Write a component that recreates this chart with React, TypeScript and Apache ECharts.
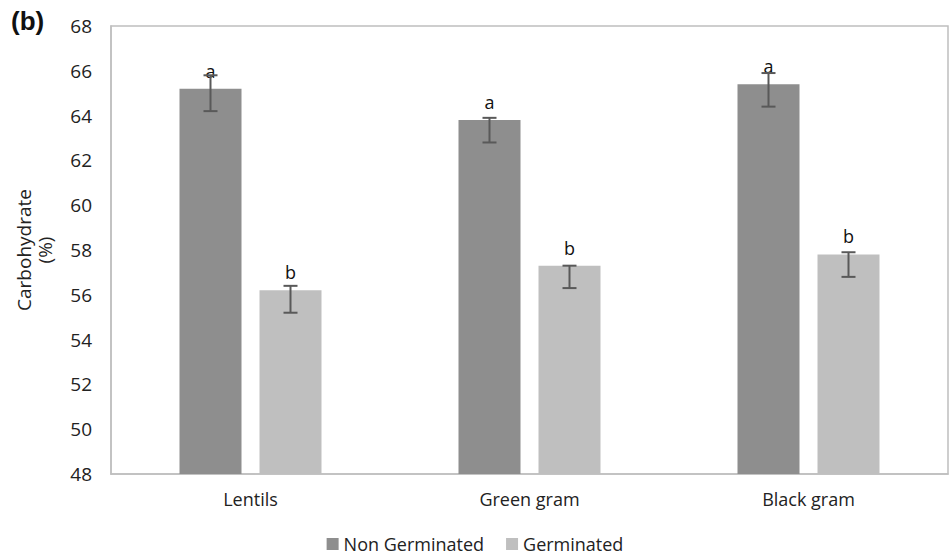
import React, { useEffect, useRef } from "react";
import * as echarts from "echarts";

const categories = ["Lentils", "Green gram", "Black gram"];
const nonGerminated = [65.2, 63.8, 65.4];
const nonGermLow = [64.2, 62.8, 64.4];
const nonGermHigh = [65.8, 63.9, 65.9];
const nonGermLetters = ["a", "a", "a"];
const germinated = [56.2, 57.3, 57.8];
const germLow = [55.2, 56.3, 56.8];
const germHigh = [56.4, 57.3, 57.9];
const germLetters = ["b", "b", "b"];
const yTicks = { min: 48, max: 68, interval: 2 };

const BAR_W = 62;
const GAP = 18;

function errSeries(name: string, low: number[], high: number[], offset: number) {
  return {
    name,
    type: "custom",
    z: 5,
    silent: true,
    data: low.map((l, i) => [i, l, high[i]]),
    encode: { x: 0, y: [1, 2] },
    renderItem: (params: any, api: any) => {
      const idx = api.value(0);
      const lo = api.coord([idx, api.value(1)]);
      const hi = api.coord([idx, api.value(2)]);
      const x = lo[0] + offset;
      const cap = 7;
      const style = { stroke: "#595959", lineWidth: 2 };
      return {
        type: "group",
        children: [
          { type: "line", shape: { x1: x, y1: lo[1], x2: x, y2: hi[1] }, style },
          { type: "line", shape: { x1: x - cap, y1: lo[1], x2: x + cap, y2: lo[1] }, style },
          { type: "line", shape: { x1: x - cap, y1: hi[1], x2: x + cap, y2: hi[1] }, style },
        ],
      };
    },
  };
}

export default function App() {
  const ref = useRef<HTMLDivElement>(null);
  useEffect(() => {
    if (!ref.current) return;
    const chart = echarts.init(ref.current, null, { renderer: "svg" });
    const font = "'Open Sans', sans-serif";
    const off = (BAR_W + GAP) / 2;
    const letterLabel = (letters: string[]) => ({
      show: true,
      position: "top",
      distance: 9,
      fontSize: 18,
      color: "#111",
      formatter: (p: any) => letters[p.dataIndex],
    });
    chart.setOption({
      animation: false,
      textStyle: { fontFamily: font },
      grid: {
        left: 111, right: 2, top: 26, bottom: 85,
        containLabel: false, outerBoundsMode: "none",
        show: true, borderColor: "#bfbfbf", borderWidth: 1.5,
      },
      legend: {
        bottom: 1,
        left: "center",
        itemWidth: 12,
        itemHeight: 12,
        itemGap: 22,
        icon: "rect",
        data: ["Non Germinated", "Germinated"],
        textStyle: { fontSize: 18, color: "#222", fontFamily: font },
      },
      graphic: [
        { type: "text", left: 11, top: 8, style: { text: "(b)", fontSize: 26, fontWeight: "bold", fill: "#111", fontFamily: "'Liberation Sans', Arial, sans-serif" } },
      ],
      xAxis: {
        type: "category",
        data: categories,
        axisLine: { lineStyle: { color: "#bfbfbf", width: 1.5 } },
        axisTick: { show: false },
        axisLabel: { fontSize: 18, color: "#222", margin: 16 },
      },
      yAxis: {
        type: "value",
        min: yTicks.min,
        max: yTicks.max,
        interval: yTicks.interval,
        name: "Carbohydrate\n(%)",
        nameLocation: "middle",
        nameGap: 56,
        nameTextStyle: { fontSize: 19, color: "#222", lineHeight: 21 },
        axisLine: { show: true, lineStyle: { color: "#bfbfbf", width: 1.5 } },
        axisTick: { show: false },
        splitLine: { show: false },
        axisLabel: { fontSize: 19, color: "#222", margin: 19 },
      },
      series: [
        {
          name: "Non Germinated",
          type: "bar",
          data: nonGerminated,
          barWidth: BAR_W,
          barGap: (GAP / BAR_W) * 100 + "%",
          itemStyle: { color: "#8e8e8e" },
          label: letterLabel(nonGermLetters),
        },
        {
          name: "Germinated",
          type: "bar",
          data: germinated,
          barWidth: BAR_W,
          itemStyle: { color: "#bfbfbf" },
          label: letterLabel(germLetters),
        },
        errSeries("errNG", nonGermLow, nonGermHigh, -off),
        errSeries("errG", germLow, germHigh, off),
      ],
    });
    return () => chart.dispose();
  }, []);
  return <div ref={ref} style={{ position: "fixed", left: 0, top: 0, width: 950, height: 559, background: "#fff" }} />;
}
